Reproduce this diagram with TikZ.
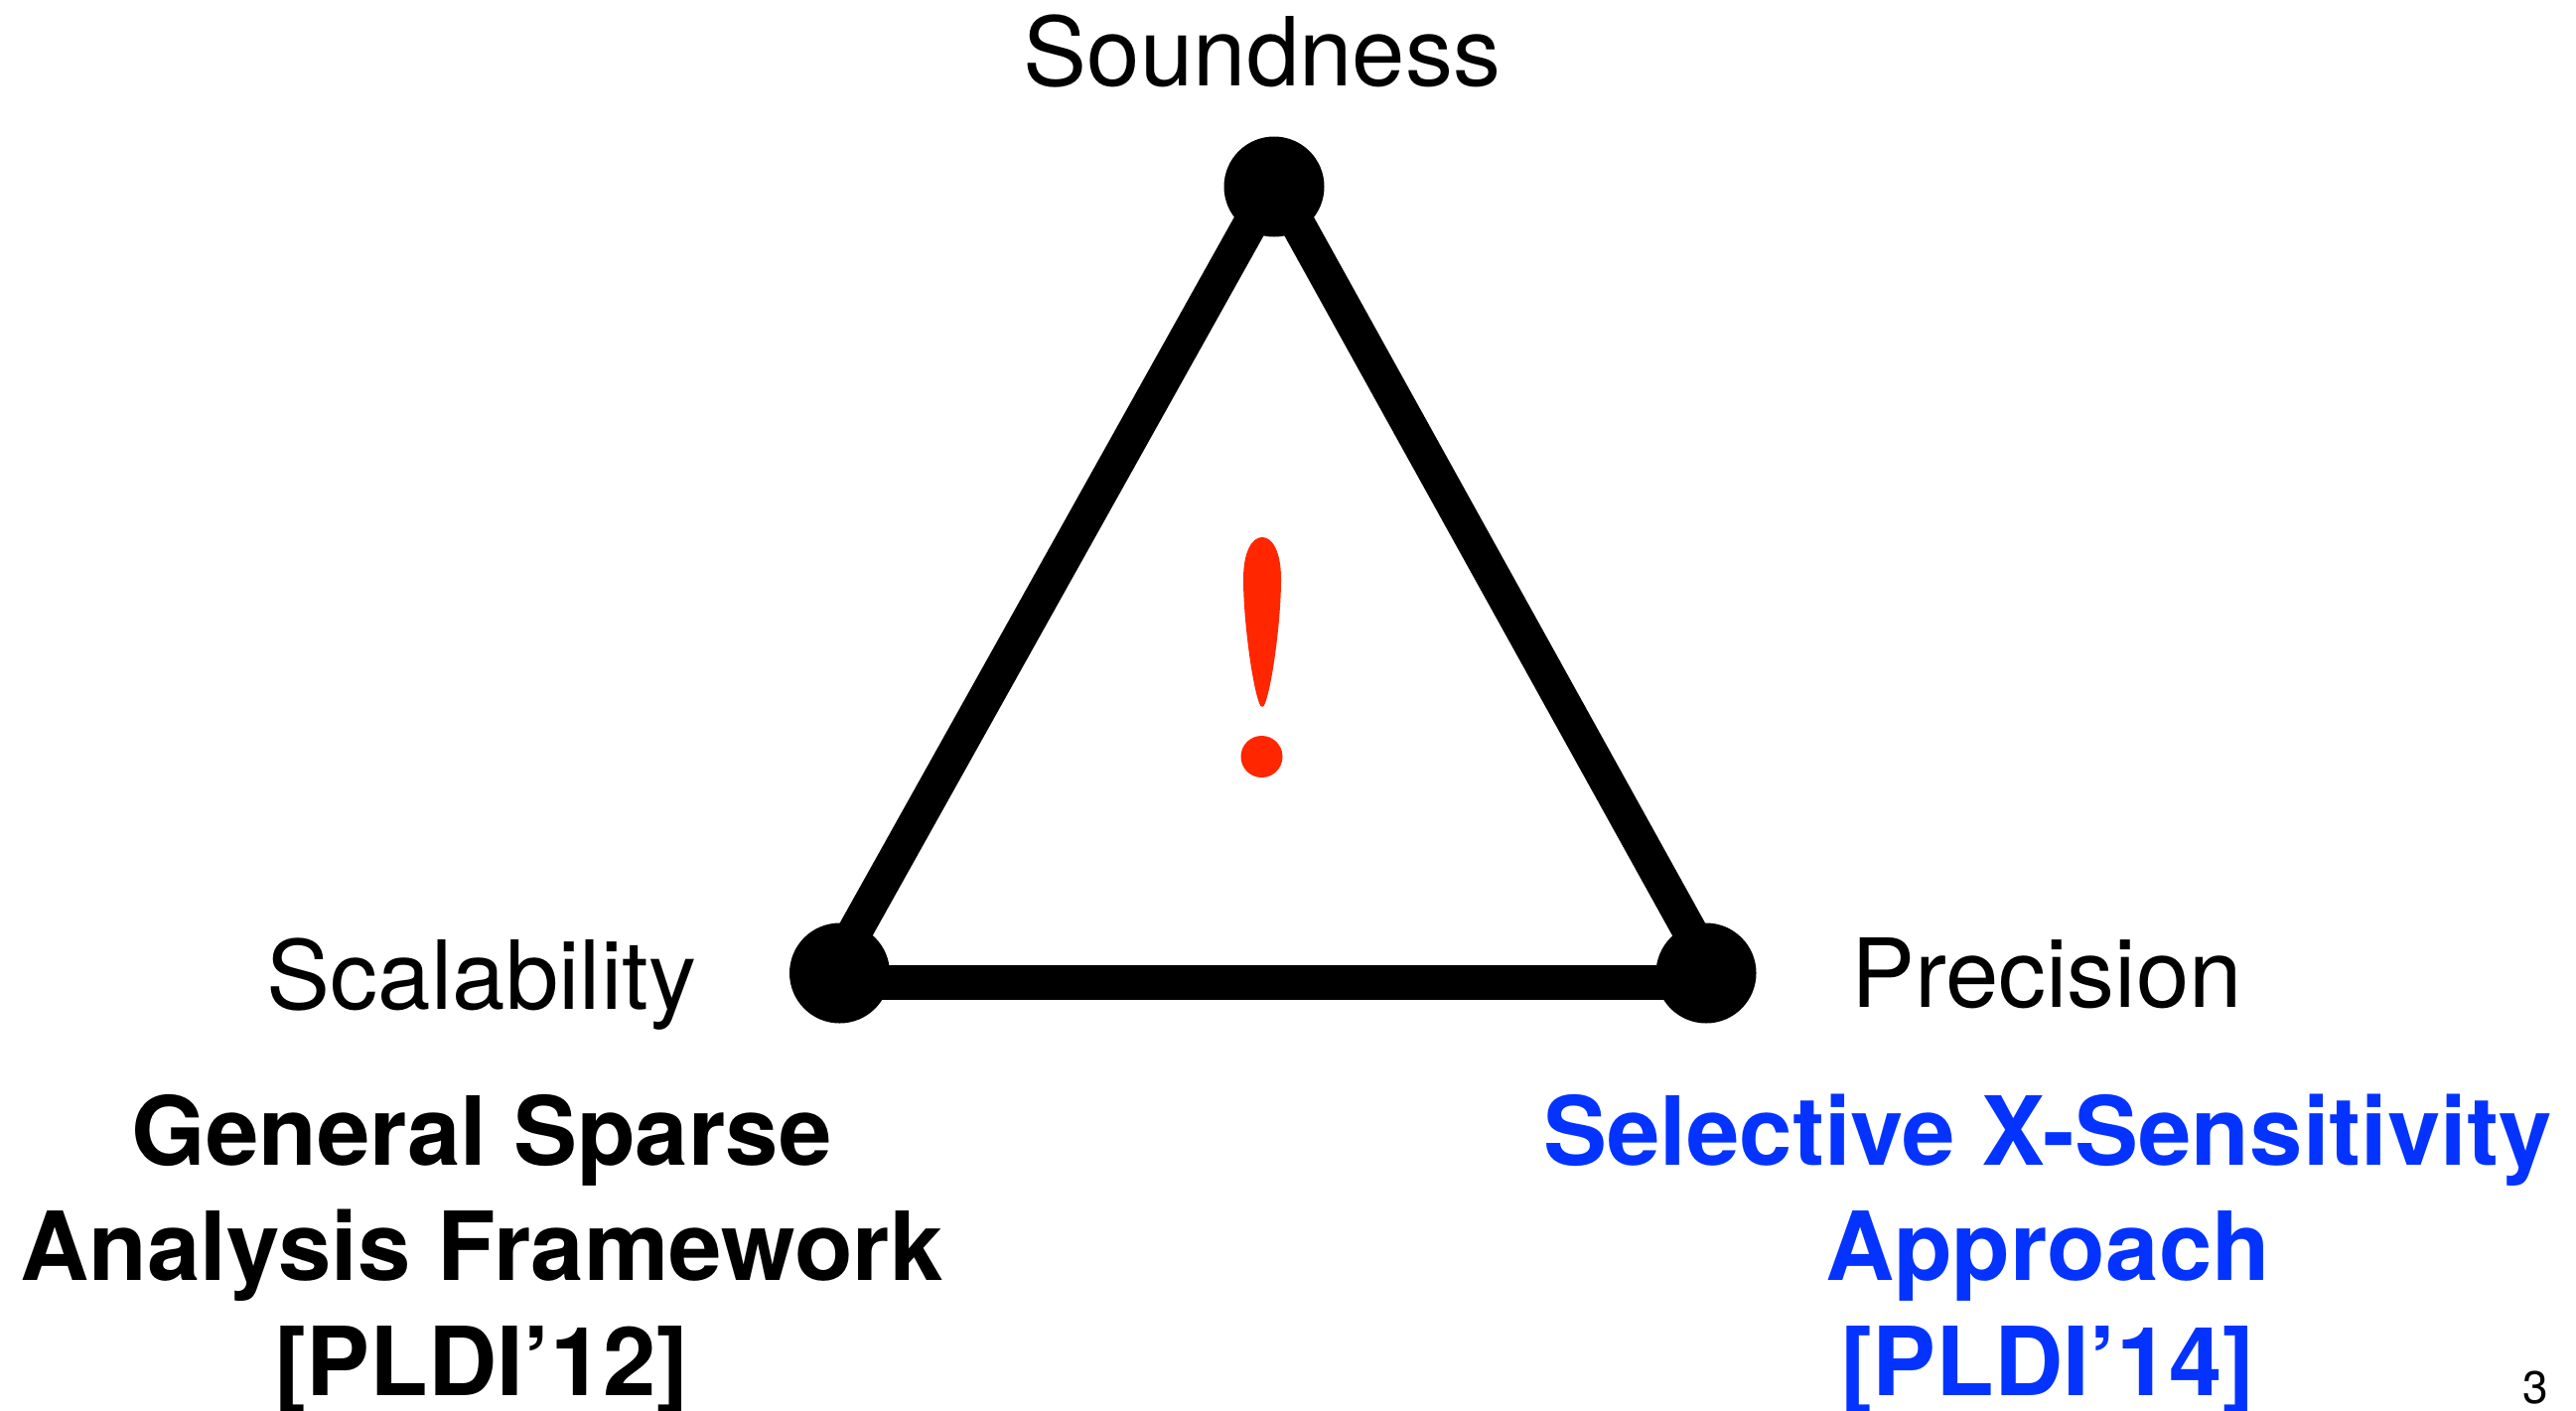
\documentclass[tikz,border=0pt]{standalone}
\usepackage{fontspec}
\setmainfont{TeX Gyre Heros}
\definecolor{alertred}{RGB}{255,38,0}
\definecolor{keyblue}{RGB}{4,51,255}
\begin{document}
\begin{tikzpicture}[x=0.5pt,y=-0.5pt,
  vtx/.style={circle,fill=black,minimum size=50.5pt,inner sep=0pt},
  side/.style={line width=17.5pt,black},
  corner/.style={font=\fontsize{48}{57}\selectfont,anchor=base,inner sep=0pt},
  paper/.style={font=\fontsize{48}{58}\selectfont\bfseries,align=center,anchor=base,inner sep=0pt},
  pagenum/.style={font=\fontsize{23}{27}\selectfont,anchor=base east,inner sep=0pt}]
  \useasboundingbox (0,0) rectangle (2594,1420);

  % the three corners of the trade-off triangle
  \node[vtx] (top) at (1283,188) {};
  \node[vtx] (left) at (845.5,980) {};
  \node[vtx] (right) at (1718,980) {};

  \draw[side] ([xshift=-1.5pt]top.center) -- ([xshift=-4pt]left.center);
  \draw[side] ([xshift=1.5pt]top.center) -- ([xshift=3.5pt]right.center);
  \draw[side] ([yshift=-4.75pt]left.center) -- ([yshift=-4.75pt]right.center);

  % corner labels
  \node[corner] (snd) at (1271,86) {Soundness};
  \node[corner] (scl) at (485,1016) {Scalability};
  \node[corner] (prc) at (2061,1014) {Precision};

  % exclamation mark in the middle
  \fill[alertred] (1252,583) .. controls (1252,555) and (1261,541) .. (1271,541)
    .. controls (1281,541) and (1290,555) .. (1290,583)
    .. controls (1290,625) and (1281,690) .. (1274,708)
    .. controls (1273,713) and (1269,713) .. (1268,708)
    .. controls (1261,690) and (1252,625) .. (1252,583) -- cycle;
  \fill[alertred] (1270.5,762) circle[radius=10.5pt];

  % papers (node base sits on the last line)
  \node[paper] (gsa) at (485,1405) {General Sparse\\Analysis Framework\\{[PLDI’12]}};
  \node[paper,text=keyblue] (sxs) at (2062,1405) {Selective X-Sensitivity\\Approach\\{[PLDI’14]}};

  \node[pagenum] (pg) at (2566,1413) {3};
\end{tikzpicture}
\end{document}
